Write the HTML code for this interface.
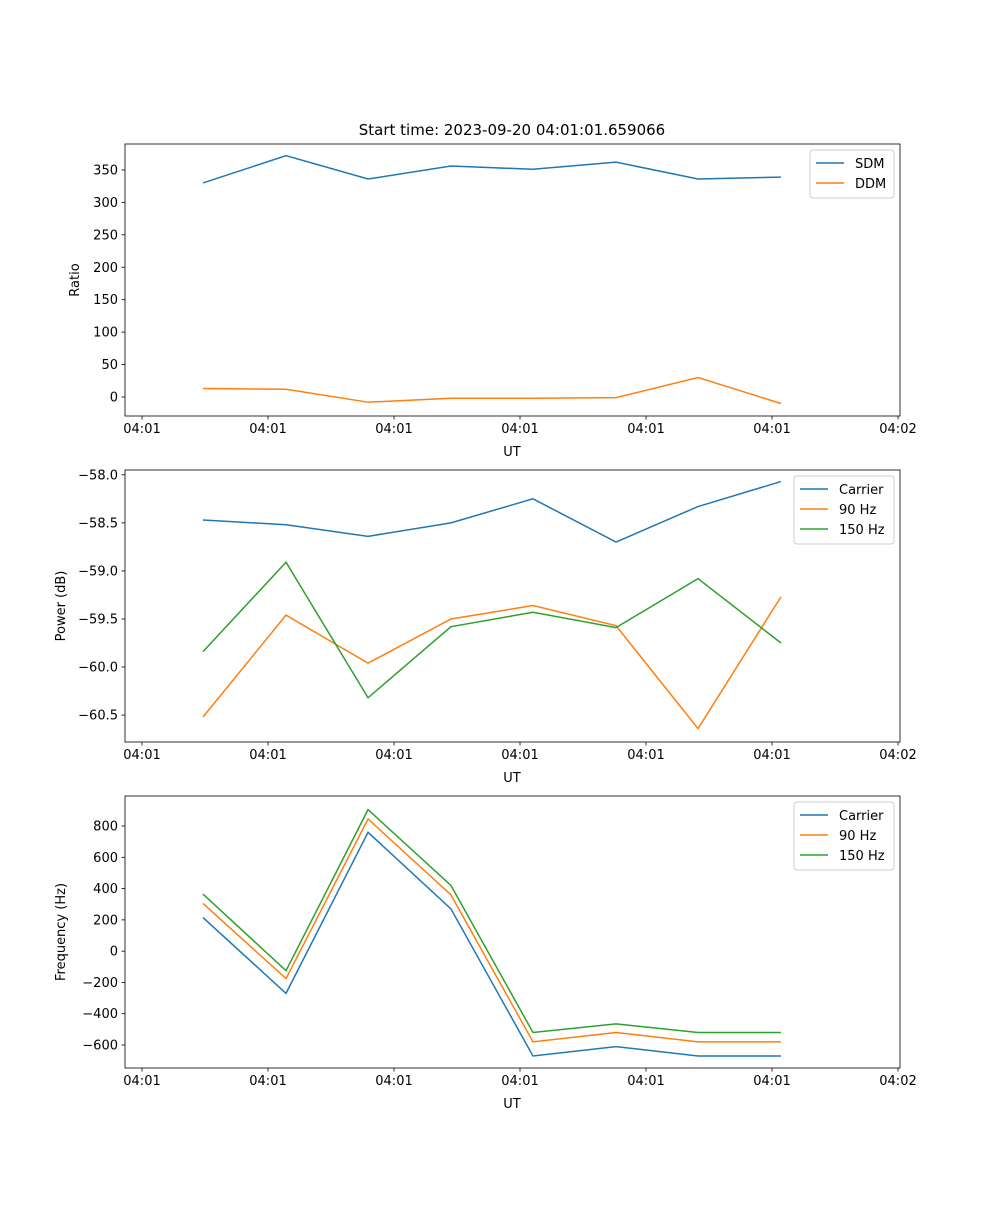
<!DOCTYPE html>
<html><head><meta charset="utf-8"><style>
body{margin:0;background:#fff;}
svg text{font-family:"DejaVu Sans","Liberation Sans",sans-serif;font-size:13px;fill:#000;}
</style></head><body>
<svg id="fig" width="1000" height="1200" xmlns="http://www.w3.org/2000/svg">
<text x="512" y="135" text-anchor="middle" font-size="15" style="font-size:15px">Start time: 2023-09-20 04:01:01.659066</text>
</svg>
<script>
const times=[0.484,1.143,1.794,2.452,3.103,3.762,4.413,5.071];
const xTicks=[0,1,2,3,4,5,6];
const xTickLabels=["04:01","04:01","04:01","04:01","04:01","04:01","04:02"];
const sdm=[330,372,336,356,351,362,336,339];
const ddm=[13,12,-8,-2,-2,-1,30,-10];
const pCarrier=[-58.47,-58.52,-58.64,-58.50,-58.25,-58.70,-58.33,-58.07];
const p90=[-60.52,-59.46,-59.96,-59.50,-59.36,-59.57,-60.64,-59.27];
const p150=[-59.84,-58.91,-60.32,-59.58,-59.43,-59.59,-59.08,-59.75];
const fCarrier=[215,-270,760,270,-670,-610,-670,-670];
const f90=[305,-175,845,360,-580,-520,-580,-580];
const f150=[365,-125,905,420,-520,-465,-520,-520];
const ticks1=[0,50,100,150,200,250,300,350];
const ticks2=[-60.5,-60.0,-59.5,-59.0,-58.5,-58.0];
const ticks3=[-600,-400,-200,0,200,400,600,800];

const NS="http://www.w3.org/2000/svg";
const svg=document.getElementById('fig');
const C=['#1f77b4','#ff7f0e','#2ca02c'];
function el(t,a,p){const e=document.createElementNS(NS,t);for(const k in a)e.setAttribute(k,a[k]);(p||svg).appendChild(e);return e;}
const L=125,R=900;
const xs=t=>142+t*126;
function panel(top,bot,ymin,ymax,yTicks,fmt,series,names,ylabel,id,legW){
  const g=el('g',{});
  
  
  const ys=v=>bot-(v-ymin)/(ymax-ymin)*(bot-top);
  series.forEach((s,i)=>{
    const pl=el('polyline',{points:s.map((v,j)=>xs(times[j])+','+ys(v)).join(' '),fill:'none',stroke:C[i],'stroke-width':1.5},g);
    
    
  });
  el('rect',{x:L,y:top,width:R-L,height:bot-top,fill:'none',stroke:'#000','stroke-width':0.8},g);
  xTicks.forEach((t,i)=>{
    const x=xs(t);
    el('line',{x1:x,x2:x,y1:bot,y2:bot+3.5,stroke:'#000','stroke-width':0.8},g);
    const tx=el('text',{x:x,y:bot+17,'text-anchor':'middle'},g);tx.textContent=xTickLabels[i];
    
    
  });
  const xl=el('text',{x:512,y:bot+40,'text-anchor':'middle'},g);xl.textContent='UT';
  
  
  yTicks.forEach(v=>{
    const y=ys(v);
    el('line',{x1:L,x2:L-3.5,y1:y,y2:y,stroke:'#000','stroke-width':0.8},g);
    const tx=el('text',{x:L-7,y:y+4.5,'text-anchor':'end'},g);tx.textContent=fmt(v);
    
    
  });
  const yl=el('text',{x:0,y:0,'text-anchor':'middle',transform:`translate(${id==='ratio'?79:65},${(top+bot)/2}) rotate(-90)`},g);yl.textContent=ylabel;
  
  
  const lx=R-6-legW,ly=top+6,lh=names.length*20+8;
  const lg=el('g',{},g);
  
  
  el('rect',{x:lx,y:ly,width:legW,height:lh,rx:3,fill:'#fff',stroke:'#ccc','stroke-width':1},lg);
  names.forEach((n,i)=>{
    const yy=ly+13+i*20;
    el('line',{x1:lx+6,x2:lx+34,y1:yy,y2:yy,stroke:C[i],'stroke-width':1.5},lg);
    const t=el('text',{x:lx+45,y:yy+5},lg);t.textContent=n;
    
    
  });
}
panel(144,416,-29.3,390,ticks1,v=>String(v),[sdm,ddm],['SDM','DDM'],'Ratio','ratio',84);
panel(470,742,-60.78,-57.95,ticks2,v=>'\u2212'.repeat(v<0?1:0)+Math.abs(v).toFixed(1),[pCarrier,p90,p150],['Carrier','90 Hz','150 Hz'],'Power (dB)','power',100);
panel(796,1068,-747,992,ticks3,v=>(v<0?'\u2212':'')+Math.abs(v),[fCarrier,f90,f150],['Carrier','90 Hz','150 Hz'],'Frequency (Hz)','frequency',100);
</script>
</body></html>
